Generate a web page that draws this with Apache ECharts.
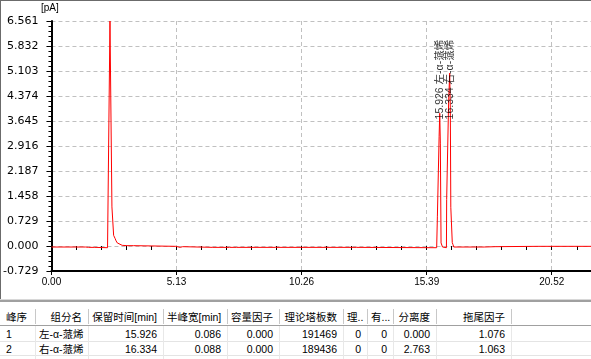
<!DOCTYPE html>
<html><head><meta charset="utf-8">
<script src="https://cdn.jsdelivr.net/npm/echarts@6/dist/echarts.min.js"></script>
<style>
html,body{margin:0;padding:0;background:#fff;width:591px;height:359px;overflow:hidden;}
#chart{position:absolute;left:0;top:0;width:591px;height:298px;}
.ln{position:absolute;}
.cell{position:absolute;white-space:nowrap;overflow:visible;color:#000;
  font-family:"Liberation Sans","Noto Sans CJK SC",sans-serif;font-size:10.5px;}
</style>
</head><body>
<div id="chart"></div>
<div id="table"></div>
<script>
// ---- chromatogram data (time in min, signal in pA) ----
const timeMin = [0, 1.40, 1.44, 1.48, 1.52, 1.78, 1.82, 1.86, 2.30, 2.34, 2.38,
  2.40, 2.46, 2.48, 2.52, 2.55, 2.58, 2.61, 2.65, 2.70, 2.78, 2.90, 3.10, 3.36, 3.40,
  5.10, 5.14, 5.28, 5.30, 5.34, 5.38, 5.42, 6.62, 6.66, 6.70, 7.30, 7.34, 7.38, 7.60, 7.64, 7.68,
  9.20, 9.24, 12.50, 15.80,
  15.83, 15.87, 15.90, 15.926, 15.95, 15.98, 16.02, 16.04, 16.08, 16.20,
  16.21, 16.25, 16.29, 16.334, 16.36, 16.38, 16.42, 16.44, 16.47, 16.50,
  17.75, 17.79, 17.83, 18.20, 18.24, 18.28, 19.96, 20.00, 20.04, 22.20];
const signalPA = [-0.03, -0.03, -0.01, -0.03, -0.04, -0.04, -0.02, -0.05, -0.05, -0.02, -0.02,
  6.56, 6.56, 1.14, 1.14, 0.31, 0.30, 0.22, 0.15, 0.09, 0.05, 0.02, 0.01, 0.01, -0.01,
  -0.01, -0.04, -0.04, -0.02, -0.04, -0.02, -0.04, -0.04, -0.02, -0.04, -0.04, -0.02, -0.04, -0.04, -0.02, -0.04,
  -0.04, -0.03, -0.04, -0.05,
  0.87, 0.87, 3.20, 3.87, 3.00, 0.09, 0.09, -0.03, -0.05, -0.05,
  1.36, 1.36, 4.20, 5.04, 4.00, 1.13, 1.13, 0.10, 0.04, -0.03,
  -0.03, 0.00, -0.02, -0.02, 0.01, -0.01, -0.01, 0.02, -0.01, -0.01];

// ---- axis scale values ----
const xMin = 0, xMax = 22.13, xStep = 5.13, xMinorStep = 1.026;
const yMin = -0.729, yMax = 6.561, yStep = 0.729;
const yUnit = '[pA]';

// ---- peak table ----
const tableHeaders = ['峰序', '组分名', '保留时间[min]', '半峰宽[min]', '容量因子', '理论塔板数', '理..', '有...', '分离度', '拖尾因子'];
const peakNo = ['1', '2'];
const peakName = ['左-α-蒎烯', '右-α-蒎烯'];
const retTime = [15.926, 16.334];
const halfWidth = [0.086, 0.088];
const capacity = [0.000, 0.000];
const plates = [191469, 189436];
const colTheo = [0, 0];
const colEff = [0, 0];
const resolution = [0.000, 2.763];
const tailing = [1.076, 1.063];
const peakLabelLevel = 3.69;

// ---------------------------------------------------------------
const lineData = timeMin.map((t, i) => [t, signalPA[i]]);
const labelData = retTime.map((t, i) => ({
  value: [t, peakLabelLevel],
  label: { formatter: t.toFixed(3) + ' ' + peakName[i] }
}));

const chart = echarts.init(document.getElementById('chart'), null, { renderer: 'canvas' });
chart.setOption({
  animation: false,
  backgroundColor: '#fff',
  grid: { left: 51, top: 21, right: -1, bottom: 27 },
  graphic: [{
    type: 'text', left: 41, top: 3,
    style: { text: yUnit, fill: '#000', font: '10px "Liberation Sans"' }
  }],
  xAxis: [{
    type: 'value', min: xMin, max: xMax, interval: xStep,
    axisLine: { onZero: false, lineStyle: { color: '#000', width: 2 } },
    axisTick: { length: 4, lineStyle: { color: '#000' } },
    axisLabel: { color: '#000', fontSize: 10, fontFamily: 'Liberation Sans', margin: 6,
      showMaxLabel: false, formatter: v => v.toFixed(2) },
    splitLine: { show: true, lineStyle: { color: '#c0c0c0', type: [4, 3], width: 1 } }
  }, {
    type: 'value', min: xMin, max: xMax, interval: xMinorStep, position: 'bottom',
    axisLine: { show: false },
    axisTick: { length: 4, lineStyle: { color: '#000' } },
    axisLabel: { show: false },
    splitLine: { show: false }
  }],
  yAxis: {
    type: 'value', min: yMin, max: yMax, interval: yStep,
    axisLine: { onZero: false, lineStyle: { color: '#000', width: 2 } },
    axisTick: { length: 5, lineStyle: { color: '#000' } },
    minorTick: { show: true, splitNumber: 5, length: 3, lineStyle: { color: '#000' } },
    axisLabel: { color: '#000', fontSize: 11, fontFamily: 'DejaVu Sans', margin: 13,
      formatter: v => v.toFixed(3) },
    splitLine: { show: true, lineStyle: { color: '#c0c0c0', type: [4, 3], width: 1 } }
  },
  series: [{
    type: 'line', data: lineData, showSymbol: false, symbol: 'none',
    lineStyle: { color: '#ff0000', width: 1 }, silent: true, z: 3
  }, {
    type: 'scatter', data: labelData, symbolSize: 0, silent: true, z: 4,
    itemStyle: { color: 'rgba(0,0,0,0)' },
    label: { show: true, position: [0, 0], rotate: 90, align: 'left', verticalAlign: 'middle',
      color: '#000', fontSize: 10.5, fontFamily: '"Liberation Sans","Noto Sans CJK SC"' }
  }]
});

// ---------------- table (HTML) ----------------
const colEdges = [2, 35, 88, 163, 227, 279, 343, 367, 393, 436, 511, 591];
const headAlign = ['left', 'right', 'right', 'right', 'right', 'right', 'left', 'left', 'right', 'right'];
const colAlign = ['left', 'right', 'right', 'right', 'right', 'right', 'right', 'right', 'right', 'right'];
const tb = document.getElementById('table');
function box(cls, l, t, w, h, bg) {
  const d = document.createElement('div');
  d.className = cls; d.style.left = l + 'px'; d.style.top = t + 'px';
  d.style.width = w + 'px'; d.style.height = h + 'px';
  if (bg) d.style.background = bg;
  tb.appendChild(d); return d;
}
// window frame
box('ln', 0, 0, 1, 299, '#6b6b6b');
box('ln', 0, 0, 591, 1, '#6b6b6b');
box('ln', 0, 299, 591, 1, '#d8d8d8');
box('ln', 0, 300, 591, 2, '#a0a0a0');
// grid lines of the table
const headTop = 309, headH = 16, rowTops = [327, 341.5], rowH = 14;
box('ln', 0, 325, 591, 1, '#a0a0a0');
box('ln', 0, 340.5, 591, 1, '#e4e4e4');
box('ln', 0, 355, 591, 1, '#e4e4e4');
for (let i = 1; i < colEdges.length; i++) {
  box('ln', colEdges[i], 309, 1, 15, '#c8c8c8');
  box('ln', colEdges[i], 326, 1, 33, '#e8e8e8');
}
function cell(text, ci, top, h, align) {
  const x0 = colEdges[ci], x1 = colEdges[ci + 1];
  const d = box('cell', x0 + 4, top, x1 - x0 - 10, h);
  d.style.lineHeight = h + 'px';
  d.style.textAlign = align;
  d.textContent = text;
}
tableHeaders.forEach((h, ci) => cell(h, ci, headTop, headH, headAlign[ci]));
for (let r = 0; r < peakNo.length; r++) {
  const vals = [peakNo[r], peakName[r], retTime[r].toFixed(3), halfWidth[r].toFixed(3),
    capacity[r].toFixed(3), String(plates[r]), String(colTheo[r]), String(colEff[r]),
    resolution[r].toFixed(3), tailing[r].toFixed(3)];
  vals.forEach((v, ci) => cell(v, ci, rowTops[r], rowH, colAlign[ci]));
}
</script>
</body></html>
